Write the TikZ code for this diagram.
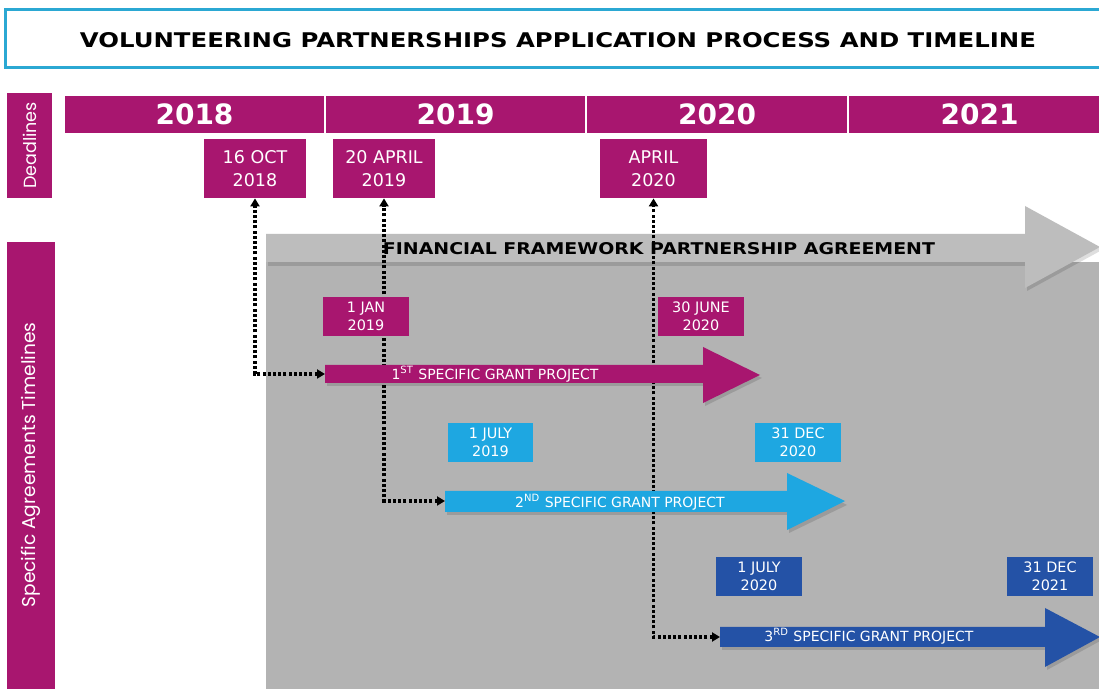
\documentclass[tikz,border=0pt]{standalone}
\usepackage{fontspec}
\setmainfont{DejaVu Sans}
\newfontfamily\vfont{Poppins}
\usetikzlibrary{arrows.meta,fit}
\definecolor{mag}{HTML}{A8166F}
\definecolor{cya}{HTML}{1EA7E1}
\definecolor{blu}{HTML}{2452A6}
\definecolor{gry}{HTML}{B3B3B3}
\definecolor{gryl}{HTML}{BDBDBD}
\definecolor{ttl}{HTML}{2BA8D3}
\begin{document}
\begin{tikzpicture}[x=0.5pt,y=-0.5pt,
  blk/.style={fill=#1, draw=none, inner sep=0pt},
  txt/.style={text=white, inner sep=0pt, align=center},
  yeartext/.style={txt, font=\fontsize{14}{16}\selectfont\bfseries},
  dltext/.style={txt, font=\fontsize{8.75}{11.5}\selectfont},
  datetext/.style={txt, font=\fontsize{7.2}{9}\selectfont},
  arrowlabel/.style={txt, font=\fontsize{7}{8}\selectfont},
  dotline/.style={line width=1.7pt, dash pattern=on 1.5pt off 1.1pt, black,
     {Triangle[length=4pt,width=4.5pt]}-{Triangle[length=4pt,width=4.5pt]}},
  shadowfill/.style={fill=black, opacity=0.13}
]
\clip (0,0) rectangle (1099,689);
\fill[white] (0,0) rectangle (1099,689);

% title
\node[draw=ttl, line width=1.5pt, fill=white, fit={(5,10) (1110,68)}, inner sep=0pt] (titlebox) {};
\node (title) at (558,40) {\resizebox{478pt}{7.5pt}{\bfseries VOLUNTEERING PARTNERSHIPS APPLICATION PROCESS AND TIMELINE}};

% side labels
\node[blk=mag, fit={(7,93) (52,198)}] (dl) {};
\node[txt, rotate=90] at (dl.center) {\resizebox{43.5pt}{!}{\vfont Deadlines}};
\node[blk=mag, fit={(7,242) (55,700)}] (sa) {};
\node[txt, rotate=90] at (31,465) {\resizebox{142.5pt}{!}{\vfont Specific Agreements Timelines}};

% year bar
\node[blk=mag, fit={(65,96) (324,133)}] (y18) {};
\node[blk=mag, fit={(326,96) (585,133)}] (y19) {};
\node[blk=mag, fit={(587,96) (847,133)}] (y20) {};
\node[blk=mag, fit={(849,96) (1110,133)}] (y21) {};
\node[yeartext] at (y18.center) {2018};
\node[yeartext] at (y19.center) {2019};
\node[yeartext] at (y20.center) {2020};
\node[yeartext] at (y21.center) {2021};

% deadline boxes
\node[blk=mag, fit={(204,139) (306,198)}] (d1) {};
\node[blk=mag, fit={(333,139) (435,198)}] (d2) {};
\node[blk=mag, fit={(600,139) (707,198)}] (d3) {};
\node[dltext] at (d1.center) {16 OCT\\2018};
\node[dltext] at (d2.center) {20 APRIL\\2019};
\node[dltext] at (d3.center) {APRIL\\2020};

% grey framework area
\fill[gry] (266,262) rectangle (1110,700);
\fill[shadowfill] (268,238) -- (1027,238) -- (1027,209) -- (1102,250) -- (1027,291) -- (1027,266) -- (268,266) -- cycle;
\fill[gryl] (266,234) -- (1025,234) -- (1025,206) -- (1100,247) -- (1025,288) -- (1025,262) -- (266,262) -- cycle;
\node (fw) at (659,249) {\resizebox{276pt}{6pt}{\bfseries FINANCIAL FRAMEWORK PARTNERSHIP AGREEMENT}};

% connector end points (arrow starts)
\coordinate (a1) at (325,374);
\coordinate (a2) at (445,501);
\coordinate (a3) at (720,637);

% dotted connectors
\draw[dotline] (a1) -| (d1.south);
\draw[dotline] (a2) -| (d2.south);
\draw[dotline] (a3) -| (d3.south);

% 1st project
\fill[shadowfill] (327,368) -- (705,368) -- (705,350) -- (762,378) -- (705,406) -- (705,386) -- (327,386) -- cycle;
\fill[mag] (325,365) -- (703,365) -- (703,347) -- (760,375) -- (703,403) -- (703,383) -- (325,383) -- cycle;
\node[arrowlabel] (p1) at (495,374) {1\textsuperscript{ST} SPECIFIC GRANT PROJECT};
\node[blk=mag, fit={(323,297) (409,336)}] (s1) {};
\node[blk=mag, fit={(658,297) (744,336)}] (e1) {};
\node[datetext] at (s1.center) {1 JAN\\2019};
\node[datetext] at (e1.center) {30 JUNE\\2020};

% 2nd project
\fill[shadowfill] (447,494) -- (789,494) -- (789,476) -- (847,505) -- (789,533) -- (789,515) -- (447,515) -- cycle;
\fill[cya] (445,491) -- (787,491) -- (787,473) -- (845,501) -- (787,530) -- (787,512) -- (445,512) -- cycle;
\node[arrowlabel] (p2) at (620,502) {2\textsuperscript{ND} SPECIFIC GRANT PROJECT};
\node[blk=cya, fit={(448,423) (533,462)}] (s2) {};
\node[blk=cya, fit={(755,423) (841,462)}] (e2) {};
\node[datetext] at (s2.center) {1 JULY\\2019};
\node[datetext] at (e2.center) {31 DEC\\2020};

% 3rd project
\fill[shadowfill] (722,630) -- (1047,630) -- (1047,611) -- (1102,640) -- (1047,670) -- (1047,650) -- (722,650) -- cycle;
\fill[blu] (720,627) -- (1045,627) -- (1045,608) -- (1100,637) -- (1045,667) -- (1045,647) -- (720,647) -- cycle;
\node[arrowlabel] (p3) at (869,636) {3\textsuperscript{RD} SPECIFIC GRANT PROJECT};
\node[blk=blu, fit={(716,557) (802,596)}] (s3) {};
\node[blk=blu, fit={(1007,557) (1093,596)}] (e3) {};
\node[datetext] at (s3.center) {1 JULY\\2020};
\node[datetext] at (e3.center) {31 DEC\\2021};
\end{tikzpicture}
\end{document}
